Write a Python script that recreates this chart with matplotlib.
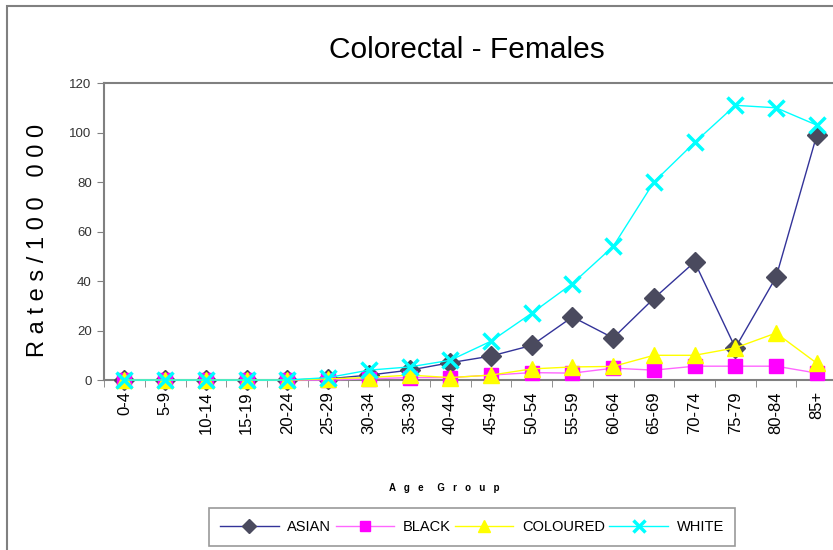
import matplotlib.pyplot as plt
import numpy as np
from matplotlib.patches import Rectangle

plt.rcParams['font.family'] = ['Liberation Sans', 'DejaVu Sans']

# Age groups and rates per 100 000
age_groups = ['0-4', '5-9', '10-14', '15-19', '20-24', '25-29', '30-34', '35-39',
              '40-44', '45-49', '50-54', '55-59', '60-64', '65-69', '70-74',
              '75-79', '80-84', '85+']
asian = [0, 0, 0, 0, 0, 0.5, 2, 4, 7, 9.7, 14, 25.5, 17, 33, 47.7, 13, 41.6, 99]
black = [0, 0, 0, 0, 0, 0, 0.5, 1, 1, 2, 3, 2.8, 4.8, 4, 5.6, 5.6, 5.6, 2.8]
coloured = [0, 0, 0, 0, 0, 0.5, 1, 2, 1, 2, 4.5, 5.3, 5.5, 10, 10, 13, 19, 6.8]
white = [0, 0, 0, 0, 0, 1, 4, 5.3, 8, 15.7, 27, 39, 54, 80, 96, 111, 110, 103]

fig = plt.figure(figsize=(8.33, 5.5), dpi=100)
ax = fig.add_axes([0.125, 0.309, 0.88, 0.54])

# outer chart frame
fig.patches.append(Rectangle((7 / 833, -0.1), 1.2, 1 - 6 / 550 + 0.1,
                             transform=fig.transFigure, fill=False,
                             edgecolor='#808080', linewidth=1.5, zorder=0))

x = np.arange(len(age_groups))
ax.plot(x, asian, color='#333399', linewidth=1, marker='D', markersize=10,
        markerfacecolor='#4a4a5e', markeredgecolor='#4a4a5e', label='ASIAN',
        zorder=3, clip_on=False)
ax.plot(x, black, color='#ff66ff', linewidth=1, marker='s', markersize=10,
        markerfacecolor='#ff00ff', markeredgecolor='#ff00ff', label='BLACK',
        zorder=4, clip_on=False)
ax.plot(x, coloured, color='#ffff00', linewidth=1, marker='^', markersize=11,
        markerfacecolor='#ffff00', markeredgecolor='#ffff00', label='COLOURED',
        zorder=5, clip_on=False)
ax.plot(x, white, color='#00ffff', linewidth=1, marker='x', markersize=11,
        markeredgewidth=2.5, label='WHITE', zorder=6, clip_on=False)

ax.set_xlim(-0.5, len(age_groups) - 0.5)
ax.set_ylim(0, 120)
ax.set_yticks(np.arange(0, 121, 20))
ax.set_xticks(x)
ax.set_xticklabels(age_groups, rotation=90, fontsize=12)
ax.set_xticks(np.arange(-0.5, len(age_groups), 1), minor=True)
ax.tick_params(axis='x', which='major', length=0, pad=8)
ax.tick_params(axis='x', which='minor', length=5, color='#808080', direction='out')
ax.tick_params(axis='y', length=5, color='#808080', labelsize=9.5, labelcolor='#333333', pad=4)

for side in ['left', 'top', 'bottom']:
    ax.spines[side].set_color('#808080')
    ax.spines[side].set_linewidth(1.5)
ax.spines['right'].set_visible(False)

fig.text(467 / 833, 1 - 50 / 550, 'Colorectal - Females', ha='center', va='center', fontsize=21.5)
fig.text(38 / 833, 1 - 240 / 550, 'R a t e s / 1 0 0   0 0 0', rotation=90,
         ha='center', va='center', fontsize=17)
fig.text(444 / 833, 1 - 488 / 550, 'A   g   e     G   r   o   u   p', ha='center', va='center',
         fontsize=7, fontweight='bold')

leg = fig.legend(loc='center', bbox_to_anchor=(472 / 833, 1 - 527 / 550), ncol=4,
                 fontsize=10.5, frameon=True, fancybox=False, edgecolor='#808080',
                 handlelength=4.0, columnspacing=0.3, handletextpad=0.6, borderpad=0.8,
                 markerscale=0.75)
leg.get_frame().set_linewidth(1.2)

fig.savefig('out.png', dpi=100)
